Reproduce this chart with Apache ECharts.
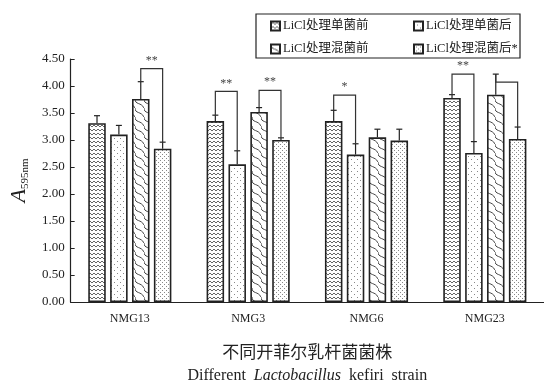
<!DOCTYPE html>
<html>
<head>
<meta charset="utf-8">
<script src="https://cdn.jsdelivr.net/npm/echarts@6/dist/echarts.min.js"></script>
<style>
  html, body { margin: 0; padding: 0; background: #fff; }
  #chart { width: 544px; height: 389px; }
</style>
</head>
<body>
<div id="chart"></div>
<script>
// Strains on the x axis
const categories = ['NMG13', 'NMG3', 'NMG6', 'NMG23'];
// Treatment groups (legend order)
const seriesNames = ['LiCl处理单菌前', 'LiCl处理单菌后', 'LiCl处理混菌前', 'LiCl处理混菌后*'];

// Mean A595nm per strain
const beforeSingle = [3.31, 3.35, 3.35, 3.78];
const afterSingle  = [3.10, 2.55, 2.73, 2.76];
const beforeMixed  = [3.76, 3.52, 3.05, 3.84];
const afterMixed   = [2.84, 3.00, 2.99, 3.02];

// Standard deviations
const sdBeforeSingle = [0.14, 0.11, 0.20, 0.06];
const sdAfterSingle  = [0.17, 0.25, 0.20, 0.21];
const sdBeforeMixed  = [0.32, 0.08, 0.15, 0.38];
const sdAfterMixed   = [0.12, 0.04, 0.21, 0.22];

// Y axis range
const yMin = 0;
const yMax = 4.5;
const yStep = 0.5;

// Significance brackets: strain index, left bar, right bar, bracket height, mark
const sigCategory = [0, 1, 1, 2, 3, 3];
const sigLeftBar  = [2, 0, 2, 0, 0, 2];
const sigRightBar = [3, 1, 3, 1, 1, 3];
const sigTop      = [4.32, 3.90, 3.92, 3.83, 4.22, 4.07];
const sigMark     = ['**', '**', '**', '*', '**', ''];

const means = [beforeSingle, afterSingle, beforeMixed, afterMixed];
const sds = [sdBeforeSingle, sdAfterSingle, sdBeforeMixed, sdAfterMixed];

const SERIF = '"Liberation Serif", "Times New Roman", serif';
const MIXED = '"Liberation Serif", "Noto Sans CJK SC", serif';
const INK = '#222';
const BAR_W = 17.5;
const BAR_GAP = 0.25;

// Small repeating tiles used as hatch fills
function tile(w, h, draw) {
  const c = document.createElement('canvas');
  c.width = w; c.height = h;
  const g = c.getContext('2d');
  g.fillStyle = '#fff';
  g.fillRect(0, 0, w, h);
  draw(g);
  return { image: c, repeat: 'repeat' };
}
const zigzag = tile(4, 4, g => {
  g.strokeStyle = '#555'; g.lineWidth = 0.9;
  g.beginPath(); g.moveTo(0, 3); g.lineTo(2, 1); g.lineTo(4, 3); g.stroke();
});
const sparseDots = tile(6, 6, g => {
  g.fillStyle = '#888';
  g.fillRect(0, 0, 1, 1); g.fillRect(3, 3, 1, 1);
});
const scales = tile(9, 9, g => {
  g.strokeStyle = '#444'; g.lineWidth = 1;
  g.beginPath(); g.moveTo(0, 0); g.bezierCurveTo(0, 6, 6, 3, 9, 9); g.stroke();
});
const denseDots = tile(4, 4, g => {
  g.fillStyle = '#888';
  g.fillRect(0, 0, 1, 1); g.fillRect(2, 2, 1, 1);
});
const fills = [zigzag, sparseDots, scales, denseDots];

function barOffset(i) {
  return (i - 1.5) * BAR_W * (1 + BAR_GAP);
}

const barSeries = seriesNames.map((name, i) => ({
  name: name,
  type: 'bar',
  data: means[i],
  barWidth: BAR_W,
  barGap: (BAR_GAP * 100) + '%',
  itemStyle: { color: fills[i], borderColor: INK, borderWidth: 1.6 },
  z: 2
}));

const errorSeries = seriesNames.map((name, i) => ({
  type: 'custom',
  silent: true,
  z: 3,
  data: means[i].map((m, c) => [c, m, sds[i][c]]),
  renderItem: function (params, api) {
    const c = api.value(0), m = api.value(1), sd = api.value(2);
    const base = api.coord([c, m]);
    const top = api.coord([c, m + sd]);
    const x = base[0] + barOffset(i);
    const st = { stroke: INK, lineWidth: 1.2 };
    return {
      type: 'group',
      children: [
        { type: 'line', shape: { x1: x, y1: base[1], x2: x, y2: top[1] }, style: st },
        { type: 'line', shape: { x1: x - 3, y1: top[1], x2: x + 3, y2: top[1] }, style: st }
      ]
    };
  }
}));

const bracketSeries = {
  type: 'custom',
  silent: true,
  z: 4,
  data: sigCategory.map((c, k) => [c, sigTop[k], k]),
  renderItem: function (params, api) {
    const c = api.value(0), k = api.value(2);
    const a = sigLeftBar[k], b = sigRightBar[k];
    const topPt = api.coord([c, sigTop[k]]);
    const endA = api.coord([c, means[a][c] + sds[a][c]]);
    const endB = api.coord([c, means[b][c] + sds[b][c]]);
    const xa = topPt[0] + barOffset(a);
    const xb = topPt[0] + barOffset(b);
    return {
      type: 'group',
      children: [
        { type: 'polyline',
          shape: { points: [[xa, endA[1]], [xa, topPt[1]], [xb, topPt[1]], [xb, endB[1]]] },
          style: { stroke: '#333', lineWidth: 1.2, fill: null } },
        { type: 'text',
          style: { text: sigMark[k], x: (xa + xb) / 2, y: topPt[1] - 2,
                   align: 'center', verticalAlign: 'bottom',
                   font: '12px ' + SERIF, fill: '#444' } }
      ]
    };
  }
};

const legendCommon = {
  orient: 'vertical',
  top: 19,
  padding: 0,
  icon: 'rect',
  itemWidth: 9,
  itemHeight: 9,
  itemGap: 9,
  textStyle: { fontSize: 12.5, fontFamily: MIXED, color: INK, lineHeight: 14, padding: [0, 0, 0, -2] }
};

const chart = echarts.init(document.getElementById('chart'));
chart.setOption({
  animation: false,
  backgroundColor: '#fff',
  grid: { left: 69, top: 59, width: 480, height: 247 },
  legend: [
    Object.assign({ data: [seriesNames[0], seriesNames[2]], left: 270 }, legendCommon),
    Object.assign({ data: [seriesNames[1], seriesNames[3]], left: 413 }, legendCommon)
  ],
  graphic: [{
    type: 'rect',
    shape: { x: 256, y: 14, width: 264, height: 44 },
    style: { fill: null, stroke: INK, lineWidth: 1.2 }
  }],
  xAxis: {
    type: 'category',
    data: categories,
    axisLine: { lineStyle: { color: INK, width: 1.2 } },
    axisTick: { inside: true, length: 5, lineStyle: { color: INK } },
    axisLabel: { fontSize: 12, fontFamily: SERIF, color: INK, margin: 11 },
    name: '{cn|不同开菲尔乳杆菌菌株}\n{en|Different  }{it|Lactobacillus}{en|  kefiri  strain}',
    nameLocation: 'middle',
    nameGap: 40,
    nameTextStyle: {
      rich: {
        cn: { fontSize: 17, fontFamily: MIXED, color: INK, lineHeight: 23 },
        en: { fontSize: 16, fontFamily: SERIF, color: INK, lineHeight: 22 },
        it: { fontSize: 16, fontFamily: SERIF, fontStyle: 'italic', color: INK, lineHeight: 22 }
      }
    }
  },
  yAxis: {
    type: 'value',
    min: yMin,
    max: yMax,
    interval: yStep,
    splitLine: { show: false },
    axisLine: { show: true, lineStyle: { color: INK, width: 1.2 } },
    axisTick: { show: true, inside: true, length: 4, lineStyle: { color: INK } },
    axisLabel: { fontSize: 13, fontFamily: SERIF, color: INK, margin: 6,
                 formatter: v => v.toFixed(2) },
    name: '{a|A}{s|595nm}',
    nameLocation: 'middle',
    nameRotate: 90,
    nameGap: 34,
    nameTextStyle: {
      rich: {
        a: { fontSize: 22, fontFamily: SERIF, fontStyle: 'italic', color: INK, lineHeight: 24 },
        s: { fontSize: 11, fontFamily: SERIF, color: INK, lineHeight: 24, verticalAlign: 'bottom', padding: [8, 0, 0, 0] }
      }
    }
  },
  series: barSeries.concat(errorSeries, [bracketSeries])
});
</script>
</body>
</html>
